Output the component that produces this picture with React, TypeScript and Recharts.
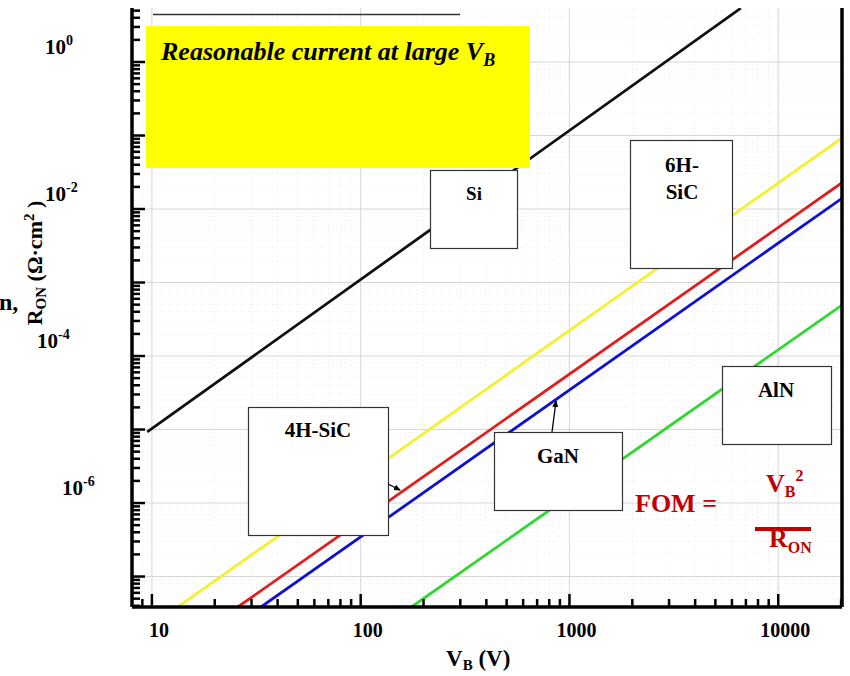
import { LineChart, Line, XAxis, YAxis, CartesianGrid } from 'recharts';

// endpoints of each R_on(V_B) limit line
const siData = [
  { v: 9.5, r: 9.3e-6 },
  { v: 6620, r: 5.4 },
];
const sic6hData = [
  { v: 13.3, r: 3.85e-8 },
  { v: 20200, r: 0.0925 },
];
const sic4hData = [
  { v: 25.8, r: 3.85e-8 },
  { v: 20200, r: 0.0228 },
];
const ganData = [
  { v: 33.3, r: 3.85e-8 },
  { v: 20200, r: 0.014 },
];
const alnData = [
  { v: 175, r: 3.85e-8 },
  { v: 20200, r: 4.94e-4 },
];

const xDomain = [8.03, 20200];
const yDomain = [3.85e-8, 5.43];

const xMajorTicks = [10, 100, 1000, 10000];
const xTickLabels = ['10', '100', '1000', '10000'];
const yMajorTicks = [1, 0.1, 0.01, 0.001, 1e-4, 1e-5, 1e-6, 1e-7];
const yLabelValues = [1, 0.01, 1e-4, 1e-6];
const yLabelExps = ['0', '-2', '-4', '-6'];
const yLabelLeft = [45, 45, 37, 62];

const serif = "'Liberation Serif', 'Times New Roman', serif";
const red = '#c00000';

function logTicks(lo: number, hi: number) {
  const out: number[] = [];
  for (let e = Math.floor(Math.log10(lo)); e <= Math.ceil(Math.log10(hi)); e++) {
    for (let m = 1; m <= 9; m++) {
      const v = m * Math.pow(10, e);
      if (v >= lo && v <= hi) out.push(v);
    }
  }
  return out;
}

const isMajor = (v: number) => Math.abs(Math.log10(v) - Math.round(Math.log10(v))) < 1e-9;

const xTicks = logTicks(xDomain[0], xDomain[1]);
const yTicks = logTicks(yDomain[0], yDomain[1]);
const xMinor = xTicks.filter((v) => !isMajor(v));
const yMinor = yTicks.filter((v) => !isMajor(v));

const MAJOR_LEN = 13;
const MINOR_LEN = 8;

function BottomTick({ x, y, payload }: any) {
  const major = isMajor(payload.value);
  const i = xMajorTicks.findIndex((t) => Math.abs(t - payload.value) < 1e-6);
  return (
    <g>
      <line x1={x} x2={x} y1={y} y2={y - (major ? MAJOR_LEN : MINOR_LEN)} stroke="#000" strokeWidth={2.5} />
      {i >= 0 && (
        <text x={x + 7} y={y + 30} textAnchor="middle" fontFamily={serif} fontWeight="bold" fontSize={20} fill="#000">
          {xTickLabels[i]}
        </text>
      )}
    </g>
  );
}

function TopTick({ x, y, payload }: any) {
  const major = isMajor(payload.value);
  return <line x1={x} x2={x} y1={y} y2={y + (major ? MAJOR_LEN : MINOR_LEN)} stroke="#000" strokeWidth={2.5} />;
}

function LeftTick({ x, y, payload }: any) {
  const major = isMajor(payload.value);
  const i = yLabelValues.findIndex((t) => Math.abs(Math.log10(t) - Math.log10(payload.value)) < 1e-6);
  return (
    <g>
      <line x1={x} x2={x + (major ? MAJOR_LEN : MINOR_LEN)} y1={y} y2={y} stroke="#000" strokeWidth={2.5} />
      {i >= 0 && (
        <text x={yLabelLeft[i]} y={y - 8} fontFamily={serif} fontWeight="bold" fontSize={21} fill="#000">
          10
          <tspan fontSize={14} dy={-9}>
            {yLabelExps[i]}
          </tspan>
        </text>
      )}
    </g>
  );
}

function Overlay() {
  const box = { fill: '#fff', stroke: '#333', strokeWidth: 1.2 };
  const bold = { fontFamily: serif, fontWeight: 'bold' as const, fill: '#000' };
  return (
    <svg width={850} height={676} style={{ position: 'absolute', left: 0, top: 0, pointerEvents: 'none' }}>
      <defs>
        <marker id="head" markerWidth="8" markerHeight="8" refX="6" refY="4" orient="auto" markerUnits="userSpaceOnUse">
          <path d="M0,1 L7,4 L0,7 Z" fill="#000" />
        </marker>
      </defs>
      <line x1={153} x2={460} y1={14.5} y2={14.5} stroke="#333" strokeWidth={1.5} />

      <rect x={146} y={26} width={384} height={142} fill="#ffff00" />
      <text x={161} y={60} {...bold} fontStyle="italic" fontSize={26}>
        Reasonable current at large V
        <tspan fontSize={18} dy={6}>
          B
        </tspan>
      </text>

      <rect x={430.5} y={170.5} width={87} height={78} {...box} />
      <text x={474} y={200} {...bold} fontSize={19} textAnchor="middle">
        Si
      </text>

      <rect x={630.5} y={140.5} width={102} height={128} {...box} />
      <text x={682} y={172} {...bold} fontSize={21} textAnchor="middle">
        6H-
      </text>
      <text x={682} y={199} {...bold} fontSize={21} textAnchor="middle">
        SiC
      </text>

      <rect x={248.5} y={407.5} width={140} height={128} {...box} />
      <text x={318} y={437} {...bold} fontSize={21} textAnchor="middle">
        4H-SiC
      </text>
      <line x1={388} y1={484} x2={400} y2={490} stroke="#000" strokeWidth={1.3} markerEnd="url(#head)" />

      <rect x={494.5} y={432.5} width={128} height={78} {...box} />
      <text x={558} y={463} {...bold} fontSize={21} textAnchor="middle">
        GaN
      </text>
      <line x1={552} y1={432} x2={556} y2={401} stroke="#000" strokeWidth={1.3} markerEnd="url(#head)" />

      <rect x={722.5} y={366.5} width={109} height={78} {...box} />
      <text x={776} y={397} {...bold} fontSize={21} textAnchor="middle">
        AlN
      </text>

      <text x={635} y={512} fontFamily={serif} fontWeight="bold" fontSize={26} fill={red}>
        FOM =
      </text>
      <text x={766} y={492} fontFamily={serif} fontWeight="bold" fontSize={26} fill={red}>
        V
        <tspan fontSize={16} dy={5}>
          B
        </tspan>
        <tspan fontSize={16} dy={-16}>
          2
        </tspan>
      </text>
      <line x1={755} x2={811} y1={529} y2={529} stroke={red} strokeWidth={4} />
      <text x={769} y={547} fontFamily={serif} fontWeight="bold" fontSize={26} fill={red}>
        R
        <tspan fontSize={16} dy={6}>
          ON
        </tspan>
      </text>

      <text x={446} y={666} {...bold} fontSize={23}>
        V
        <tspan fontSize={15} dy={4}>
          B
        </tspan>
        <tspan dy={-4}> (V)</tspan>
      </text>

      <text x={42} y={263} {...bold} fontSize={22} textAnchor="middle" transform="rotate(-90 42 263)">
        R
        <tspan fontSize={15} dy={4}>
          ON
        </tspan>
        <tspan dy={-4}> (Ω·cm</tspan>
        <tspan fontSize={15} dy={-8}>
          2
        </tspan>
        <tspan dy={8}> )</tspan>
      </text>
      <text x={-1} y={310} {...bold} fontSize={24}>
        n,
      </text>
    </svg>
  );
}

export default function App() {
  return (
    <div style={{ position: 'absolute', left: 0, top: 0, width: 850, height: 676, background: '#fff' }}>
      <LineChart width={850} height={676} margin={{ top: 8, right: 4, bottom: 0, left: 0 }}>
        <CartesianGrid horizontalValues={yMinor} verticalValues={xMinor} stroke="#ececec" strokeDasharray="1 3" />
        <CartesianGrid horizontalValues={yMajorTicks} verticalValues={xMajorTicks} stroke="#d6d6d6" />
        <XAxis
          dataKey="v"
          type="number"
          scale="log"
          domain={xDomain}
          allowDataOverflow
          ticks={xTicks}
          interval={0}
          tickSize={0}
          tickMargin={0}
          tickLine={false}
          tick={(p: any) => <BottomTick {...p} />}
          axisLine={{ stroke: '#000', strokeWidth: 3.5 }}
          height={69}
        />
        <XAxis
          xAxisId="top"
          orientation="top"
          type="number"
          scale="log"
          domain={xDomain}
          allowDataOverflow
          ticks={xTicks}
          interval={0}
          tickSize={0}
          tickMargin={0}
          tickLine={false}
          tick={(p: any) => <TopTick {...p} />}
          axisLine={{ stroke: '#000', strokeWidth: 3.5 }}
          height={0}
        />
        <YAxis
          dataKey="r"
          type="number"
          scale="log"
          domain={yDomain}
          allowDataOverflow
          ticks={yTicks}
          interval={0}
          tickSize={0}
          tickMargin={0}
          tickLine={false}
          tick={(p: any) => <LeftTick {...p} />}
          axisLine={{ stroke: '#000', strokeWidth: 3.5 }}
          width={132}
        />
        <YAxis
          yAxisId="right"
          orientation="right"
          type="number"
          scale="log"
          domain={yDomain}
          allowDataOverflow
          tick={false}
          tickLine={false}
          axisLine={{ stroke: '#000', strokeWidth: 3.5 }}
          width={4}
        />
        <Line data={siData} dataKey="r" stroke="#111" strokeWidth={2.8} dot={false} isAnimationActive={false} />
        <Line data={sic6hData} dataKey="r" stroke="#f2f230" strokeWidth={2.8} dot={false} isAnimationActive={false} />
        <Line data={sic4hData} dataKey="r" stroke="#e01e1e" strokeWidth={2.8} dot={false} isAnimationActive={false} />
        <Line data={ganData} dataKey="r" stroke="#1010d0" strokeWidth={2.8} dot={false} isAnimationActive={false} />
        <Line data={alnData} dataKey="r" stroke="#2ed82e" strokeWidth={2.8} dot={false} isAnimationActive={false} />
      </LineChart>
      <Overlay />
    </div>
  );
}
